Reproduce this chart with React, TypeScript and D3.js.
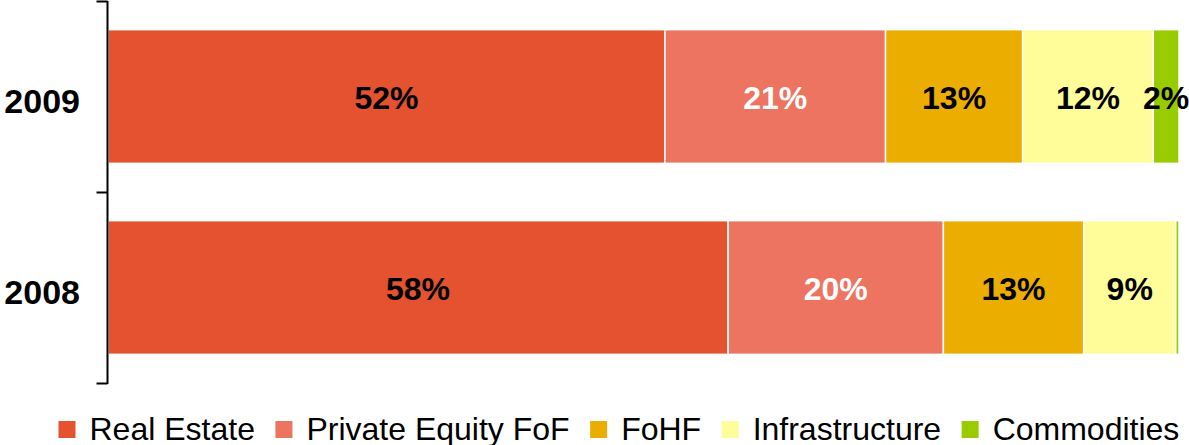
import * as React from "react";
import * as d3 from "d3";

const width = 1189;
const height = 445;

const years = ["2009", "2008"];
const seriesNames = ["Real Estate", "Private Equity FoF", "FoHF", "Infrastructure", "Commodities"];
const colors = ["#E4522F", "#EC7460", "#EBAD00", "#FFFD9A", "#99CC00"];
const labelColors = ["#000", "#fff", "#000", "#000", "#000"];
const values2009 = [52.0, 20.6, 12.8, 12.2, 2.4];
const values2008 = [57.9, 20.1, 13.1, 8.6, 0.3];

const fontFamily = "'Liberation Sans', Arial, sans-serif";

const measure = (text: string, font: string) => {
  const ctx = document.createElement("canvas").getContext("2d");
  if (!ctx) return text.length * 16;
  ctx.font = font;
  return ctx.measureText(text).width;
};

export default function App() {
  const rows = [
    { year: "2009", values: values2009 },
    { year: "2008", values: values2008 },
  ];

  const xScale = d3.scaleLinear().domain([0, 100]).range([108, 1179]);
  const yScale = d3
    .scaleBand()
    .domain(years)
    .range([1, 383])
    .paddingInner(0.3)
    .paddingOuter(0.15);

  const stack = d3
    .stack<{ year: string; values: number[] }, number>()
    .keys(d3.range(seriesNames.length))
    .value((d, k) => d.values[k]);
  const layers = stack(rows);

  const bw = yScale.bandwidth();

  // legend layout
  const legendSize = 32;
  const legendFont = `${legendSize}px ${fontFamily}`;
  let lx = 58.5;
  const legendItems = seriesNames.map((name, i) => {
    const item = { name, color: colors[i], x: lx };
    lx += 17 + 14 + measure(name, legendFont) + 20.5;
    return item;
  });

  return (
    <div style={{ position: "fixed", left: 0, top: 0 }}>
      <svg width={width} height={height} style={{ display: "block" }} fontFamily={fontFamily}>
        <rect width={width} height={height} fill="#fff" />
        {layers.map((layer, i) => (
          <g key={i}>
            {layer.map((d) => {
              const year = d.data.year;
              const x0 = xScale(d[0]);
              const x1 = xScale(d[1]);
              const y = yScale(year) ?? 0;
              const v = d[1] - d[0];
              return (
                <g key={year}>
                  <rect
                    x={x0}
                    y={y}
                    width={x1 - x0}
                    height={bw}
                    fill={colors[i]}
                    stroke="#fff"
                    strokeWidth={1.5}
                  />
                  {Math.round(v) > 0 && (
                    <text
                      x={(x0 + x1) / 2}
                      y={y + bw / 2 + 12}
                      textAnchor="middle"
                      fontSize={32}
                      fontWeight="bold"
                      fill={labelColors[i]}
                    >
                      {Math.round(v)}%
                    </text>
                  )}
                </g>
              );
            })}
          </g>
        ))}

        {/* category axis */}
        <g stroke="#000" strokeWidth={2} fill="none">
          <line x1={107.5} x2={107.5} y1={1} y2={384} />
          {[1, 192, 383].map((t) => (
            <line key={t} x1={96.5} x2={107.5} y1={t + 0.5} y2={t + 0.5} />
          ))}
        </g>
        {years.map((yr) => (
          <text
            key={yr}
            x={80}
            y={(yScale(yr) ?? 0) + bw / 2 + 16}
            textAnchor="end"
            fontSize={34}
            fontWeight="bold"
            fill="#000"
          >
            {yr}
          </text>
        ))}

        {/* legend */}
        {legendItems.map((item) => (
          <g key={item.name}>
            <rect x={item.x} y={421} width={17} height={17} fill={item.color} />
            <text x={item.x + 31} y={440} fontSize={legendSize} fill="#000">
              {item.name}
            </text>
          </g>
        ))}
      </svg>
    </div>
  );
}
